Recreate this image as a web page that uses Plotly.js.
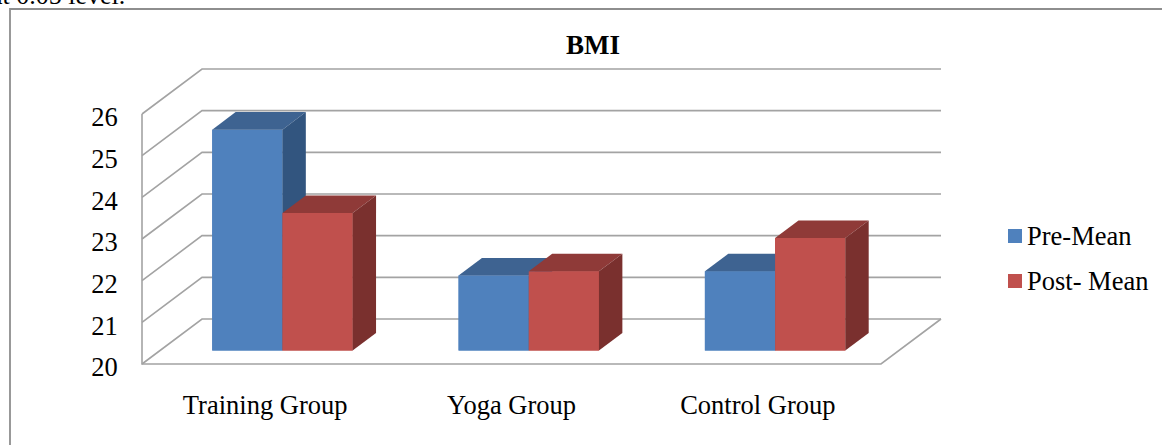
<!DOCTYPE html>
<html>
<head>
<meta charset="utf-8">
<script src="https://cdn.plot.ly/plotly-3.0.1.min.js"></script>
<style>html,body{margin:0;padding:0;background:#fff;overflow:hidden}</style>
</head>
<body>
<div id="chart" style="width:1162px;height:445px"></div>
<script>
const categories = ["Training Group", "Yoga Group", "Control Group"];
const preMean = [25.3, 21.8, 21.9];
const postMean = [23.3, 21.9, 22.7];
const yTicks = [20, 21, 22, 23, 24, 25, 26];

// oblique projection of the chart box, in axis units
const DEPTH_X = 0.2436, DEPTH_Y = 1.08, BAR_W = 0.285, BAR_DEPTH = 0.39, BAR_FRONT = 0.30;
const N = categories.length;
const FONT = "Liberation Serif";
const GRID = "#a3a3a3";

const series = [
  {name: "Pre-Mean", values: preMean, side: -1, front: "#4F81BD", top: "#3E6391", right: "#32557F"},
  {name: "Post- Mean", values: postMean, side: 0, front: "#C0504D", top: "#8F3A38", right: "#7A302E"}
];

const baseY = yTicks[0] + DEPTH_Y * BAR_FRONT;
const shiftX = DEPTH_X * BAR_FRONT - 0.003;
const bdx = DEPTH_X * BAR_DEPTH, bdy = DEPTH_Y * BAR_DEPTH;

function poly(xs, ys, color) {
  return {type: "scatter", x: xs, y: ys, mode: "lines", fill: "toself", fillcolor: color,
          line: {width: 0, color: color}, showlegend: false, hoverinfo: "skip"};
}

const traces = [];
series.forEach((s, k) => {
  traces.push({
    type: "bar", name: s.name, showlegend: false,
    x: categories.map((c, i) => i + 0.5 + s.side * BAR_W + shiftX),
    y: s.values.map(v => v - yTicks[0]),
    base: s.values.map(() => baseY),
    customdata: s.values,
    hovertemplate: "%{customdata}<extra>" + s.name + "</extra>",
    width: BAR_W, offset: 0,
    marker: {color: s.front, line: {width: 0}}
  });
});
categories.forEach((c, i) => {
  series.forEach(s => {
    const x0 = i + 0.5 + s.side * BAR_W + shiftX, x1 = x0 + BAR_W;
    const yT = s.values[i] + DEPTH_Y * BAR_FRONT;
    traces.push(poly([x0, x1, x1, x0, x0], [baseY, baseY, yT, yT, baseY], s.front));
    traces.push(poly([x0, x1, x1 + bdx, x0 + bdx, x0], [yT, yT, yT + bdy, yT + bdy, yT], s.top));
    traces.push(poly([x1, x1 + bdx, x1 + bdx, x1, x1], [baseY, baseY + bdy, yT + bdy, yT, baseY], s.right));
  });
});

function seg(xs, ys, color, width, xref, yref) {
  const path = xs.map((x, i) => (i ? "L" : "M") + x + "," + ys[i]).join(" ");
  return {type: "path", path, xref: xref || "x", yref: yref || "y", layer: "below",
          line: {color, width}};
}
const y0 = yTicks[0], yN = yTicks[yTicks.length - 1];
const shapes = [];
yTicks.forEach(t => {
  shapes.push(seg([0, DEPTH_X, N + DEPTH_X], [t, t + DEPTH_Y, t + DEPTH_Y], GRID, 1.6));
});
shapes.push(seg([0, 0, N, N + DEPTH_X], [yN, y0, y0, y0 + DEPTH_Y], GRID, 1.6));

// outer frame of the figure, in page fractions
const W = 1162, H = 445, L = 132, R = 211, T = 59, B = 71;
const pw = W - L - R, ph = H - T - B;
const px = v => (v - L) / pw, py = v => 1 - (v - T) / ph;
shapes.push(seg([px(10), px(10), px(1162)], [py(445), py(9), py(9)], "#8e8e8e", 1.8, "paper", "paper"));

const annotations = [
  {text: "<b>BMI</b>", xref: "paper", yref: "paper", x: px(593), y: py(45), xanchor: "center", yanchor: "middle",
   showarrow: false, font: {family: FONT, size: 27, color: "#000"}},
  {text: "at 0.05 level.", xref: "paper", yref: "paper", x: px(127), y: py(12), xanchor: "right", yanchor: "bottom",
   showarrow: false, font: {family: FONT, size: 26, color: "#000"}}
];
// legend key
series.forEach((s, k) => {
  const cy = 236 + k * 45;
  shapes.push({type: "rect", xref: "paper", yref: "paper", x0: px(1008), x1: px(1022), y0: py(cy - 7), y1: py(cy + 7),
               line: {width: 0}, fillcolor: s.front});
  annotations.push({text: s.name, xref: "paper", yref: "paper", x: px(1024.5), y: py(cy), xanchor: "left", yanchor: "middle",
                    showarrow: false, font: {family: FONT, size: 26.5, color: "#000"}});
});

const layout = {
  width: W, height: H,
  margin: {l: L, r: R, t: T, b: B, pad: 0},
  paper_bgcolor: "#fff", plot_bgcolor: "rgba(0,0,0,0)",
  barmode: "overlay", showlegend: false,
  font: {family: FONT, color: "#000", size: 26},
  hovermode: "closest",
  xaxis: {
    range: [-0.0406, N + DEPTH_X + 0.0406], showgrid: false, zeroline: false, showline: false,
    tickmode: "array", tickvals: categories.map((c, i) => i + 0.5), ticktext: categories,
    ticks: "outside", ticklen: 7, tickcolor: "rgba(0,0,0,0)",
    tickfont: {family: FONT, size: 26.5, color: "#000"}
  },
  yaxis: {
    range: [y0 - 0.24, yN + DEPTH_Y + 0.24], showgrid: false, zeroline: false, showline: false,
    tickmode: "array", tickvals: yTicks, ticktext: yTicks.map(String),
    ticks: "outside", ticklen: 8, ticklabelshift: 3, tickcolor: "rgba(0,0,0,0)",
    tickfont: {family: FONT, size: 26.5, color: "#000"}
  },
  shapes,
  annotations
};
Plotly.newPlot("chart", traces, layout, {displayModeBar: false, responsive: false});
</script>
</body>
</html>
